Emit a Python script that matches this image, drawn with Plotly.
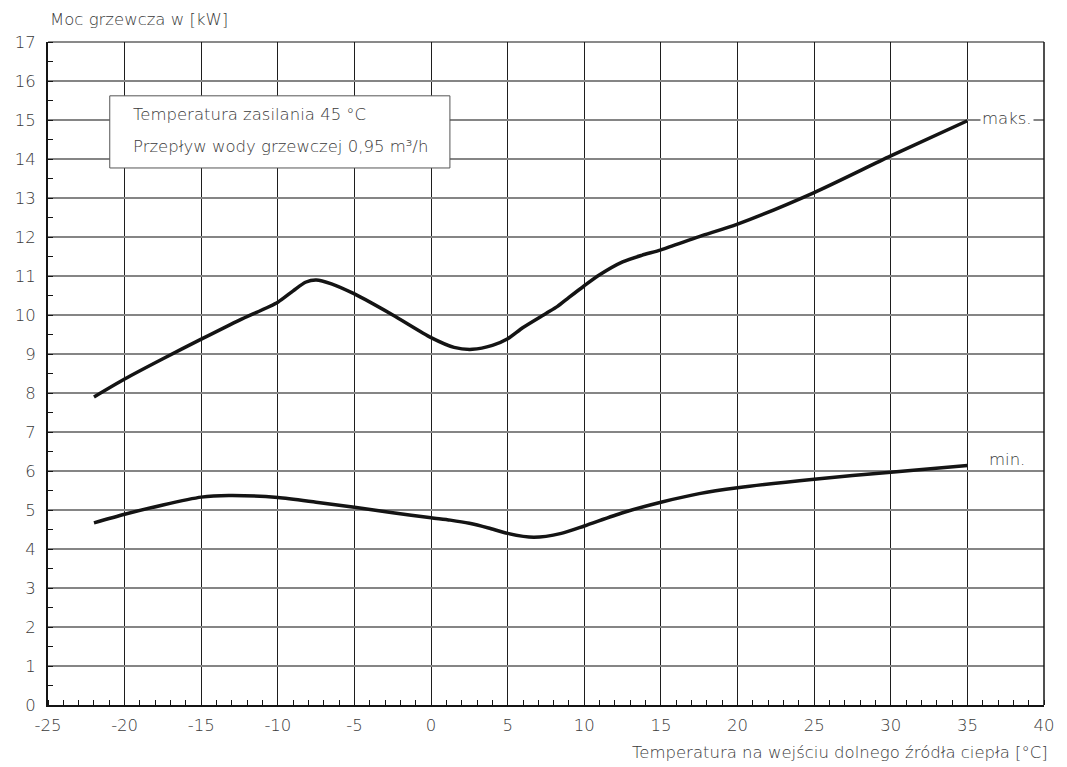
import plotly.graph_objects as go

# Heating capacity vs. source inlet temperature
x_max = [-22, -20, -17.5, -15, -12.5, -10, -9, -8.2, -7.5, -6.5, -5, -2.5, 0, 1.5, 2.7, 4, 5, 6, 7.5, 8.25, 9, 10, 11, 12.5, 13.75, 15, 17.5, 20, 25, 30, 35]
y_max = [7.90, 8.36, 8.88, 9.38, 9.87, 10.33, 10.62, 10.84, 10.9, 10.8, 10.54, 10.0, 9.42, 9.17, 9.12, 9.22, 9.39, 9.68, 10.04, 10.22, 10.45, 10.75, 11.03, 11.36, 11.53, 11.67, 12.01, 12.33, 13.14, 14.08, 14.98]

x_min = [-22, -20, -17.5, -15, -13.2, -10, -7.5, -5, -2.5, 0, 1.25, 2.5, 3.75, 5, 6.7, 8.5, 10, 12.5, 15, 17.5, 20, 25, 30, 35]
y_min = [4.67, 4.89, 5.13, 5.33, 5.37, 5.32, 5.2, 5.07, 4.93, 4.80, 4.74, 4.66, 4.54, 4.40, 4.30, 4.40, 4.59, 4.93, 5.20, 5.42, 5.57, 5.79, 5.97, 6.14]

x_ticks = list(range(-25, 41, 5))
y_ticks = list(range(0, 18))

FONT = "DejaVu Sans"
W = 200
TXT = "#3a3a3a"
LINE = "#141414"
FS = 16.5


def f(size=FS):
    return dict(family=FONT, size=size, color=TXT, weight=W)


fig = go.Figure()
fig.add_trace(go.Scatter(x=x_max, y=y_max, mode="lines",
                         line=dict(color=LINE, width=3.5, shape="spline", smoothing=0.7),
                         showlegend=False, hoverinfo="skip"))
fig.add_trace(go.Scatter(x=x_min, y=y_min, mode="lines",
                         line=dict(color=LINE, width=3.5, shape="spline", smoothing=0.7),
                         showlegend=False, hoverinfo="skip"))

# curve labels
fig.add_annotation(x=35.8, y=15.05, text="maks.", showarrow=False, xanchor="left",
                   yanchor="middle", bgcolor="white", borderpad=1, font=f())
fig.add_annotation(x=37.6, y=6.3, text="min.", showarrow=False, xanchor="center",
                   yanchor="middle", font=f())

# info box
fig.add_shape(type="rect", x0=-20.97, x1=1.23, y0=13.77, y1=15.62,
              xref="x", yref="y", fillcolor="white",
              line=dict(color="#555555", width=1), layer="above")
fig.add_annotation(x=-19.6, y=15.13, text="Temperatura zasilania 45 °C", showarrow=False,
                   xanchor="left", yanchor="middle", font=f())
fig.add_annotation(x=-19.6, y=14.33, text="Przepływ wody grzewczej 0,95 m³/h", showarrow=False,
                   xanchor="left", yanchor="middle", font=f())

# axis titles
fig.add_annotation(x=0.0, y=1.0, xref="paper", yref="paper", text="Moc grzewcza w [kW]",
                   showarrow=False, xanchor="left", yanchor="bottom", xshift=0, yshift=11,
                   font=f())
fig.add_annotation(x=1.0, y=0.0, xref="paper", yref="paper",
                   text="Temperatura na wejściu dolnego źródła ciepła [°C]",
                   showarrow=False, xanchor="right", yanchor="top", xshift=6, yshift=-36,
                   font=f())

# top and right frame
fig.add_shape(type="line", xref="paper", yref="paper", x0=0, x1=1, y0=1, y1=1,
              line=dict(color=LINE, width=1))
fig.add_shape(type="line", xref="paper", yref="paper", x0=1, x1=1, y0=0, y1=1,
              line=dict(color=LINE, width=1.5))

fig.update_xaxes(range=[-25, 40], tickvals=x_ticks, ticktext=[str(v) for v in x_ticks],
                 showgrid=True, gridcolor="#1e1e1e", gridwidth=1,
                 showline=True, linecolor=LINE, linewidth=2, zeroline=False,
                 ticks="", tickfont=f(), ticklabelstandoff=4,
                 minor=dict(dtick=1, tick0=0, ticks="inside", ticklen=5, tickcolor=LINE,
                            tickwidth=1, showgrid=False),
                 fixedrange=True)
fig.update_yaxes(range=[0, 17], tickvals=y_ticks, ticktext=[str(v) for v in y_ticks],
                 showgrid=True, gridcolor="#858585", gridwidth=1.5,
                 showline=True, linecolor=LINE, linewidth=2, zeroline=False,
                 ticks="", tickfont=f(), ticklabelstandoff=7,
                 minor=dict(dtick=0.5, tick0=0, ticks="inside", ticklen=5, tickcolor=LINE,
                            tickwidth=1, showgrid=False),
                 fixedrange=True)

fig.update_layout(width=1067, height=767, margin=dict(l=48, r=18, t=42, b=62),
                  plot_bgcolor="white", paper_bgcolor="white",
                  font=dict(family=FONT, color=TXT))

fig.write_html("out.html")
